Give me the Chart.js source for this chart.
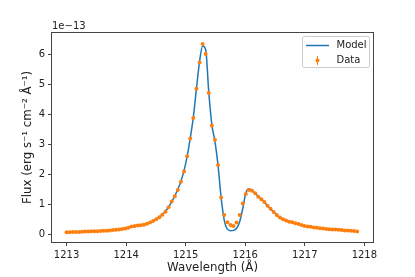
<!DOCTYPE html>
<html>
<head>
<meta charset="utf-8">
<script src="https://cdn.jsdelivr.net/npm/chart.js@4.4.1/dist/chart.umd.min.js"></script>
<style>
  html, body { margin: 0; padding: 0; background: #fff; }
  #wrap { width: 415px; height: 277px; }
</style>
</head>
<body>
<div id="wrap"><canvas id="spec"></canvas></div>
<script>
// wavelength grid (Å)
const wavelength = [
  1213.000, 1213.052, 1213.104, 1213.156, 1213.208, 1213.260, 1213.311, 1213.363, 1213.415, 1213.467,
  1213.519, 1213.571, 1213.623, 1213.675, 1213.727, 1213.779, 1213.830, 1213.882, 1213.934, 1213.986,
  1214.038, 1214.090, 1214.142, 1214.194, 1214.246, 1214.298, 1214.349, 1214.401, 1214.453, 1214.505,
  1214.557, 1214.609, 1214.661, 1214.713, 1214.765, 1214.817, 1214.868, 1214.920, 1214.972, 1215.024,
  1215.076, 1215.128, 1215.180, 1215.232, 1215.284, 1215.336, 1215.387, 1215.439, 1215.491, 1215.543,
  1215.595, 1215.647, 1215.699, 1215.751, 1215.803, 1215.855, 1215.906, 1215.958, 1216.010, 1216.062,
  1216.114, 1216.166, 1216.218, 1216.270, 1216.322, 1216.374, 1216.425, 1216.477, 1216.529, 1216.581,
  1216.633, 1216.685, 1216.737, 1216.789, 1216.841, 1216.893, 1216.944, 1216.996, 1217.048, 1217.100,
  1217.152, 1217.204, 1217.256, 1217.308, 1217.360, 1217.412, 1217.463, 1217.515, 1217.567, 1217.619,
  1217.671, 1217.723, 1217.775, 1217.827, 1217.879
];

// observed flux, units of 1e-13 erg/s/cm2/Å
const flux = [
  0.07, 0.07, 0.075, 0.08, 0.08, 0.085, 0.09, 0.09, 0.10, 0.10,
  0.105, 0.11, 0.12, 0.12, 0.13, 0.14, 0.15, 0.16, 0.18, 0.19,
  0.22, 0.26, 0.28, 0.29, 0.30, 0.32, 0.35, 0.39, 0.44, 0.50,
  0.57, 0.65, 0.75, 0.90, 1.09, 1.27, 1.48, 1.75, 2.09, 2.60,
  3.19, 3.88, 4.85, 5.73, 6.34, 6.01, 4.71, 3.63, 3.15, 2.31,
  1.23, 0.64, 0.40, 0.31, 0.28, 0.39, 0.64, 1.03, 1.34, 1.48,
  1.45, 1.37, 1.25, 1.17, 1.08, 0.95, 0.85, 0.74, 0.64, 0.56,
  0.50, 0.46, 0.42, 0.40, 0.37, 0.34, 0.31, 0.28, 0.26, 0.25,
  0.23, 0.22, 0.20, 0.19, 0.18, 0.17, 0.16, 0.16, 0.15, 0.14,
  0.13, 0.13, 0.12, 0.11, 0.09
];

// 1-sigma errors (tiny, mostly hidden under the markers)
const fluxErr = [
  0.02, 0.02, 0.02, 0.02, 0.02, 0.02, 0.02, 0.02, 0.02, 0.02,
  0.02, 0.02, 0.02, 0.02, 0.02, 0.02, 0.02, 0.02, 0.02, 0.02,
  0.02, 0.02, 0.02, 0.02, 0.02, 0.02, 0.02, 0.02, 0.02, 0.02,
  0.02, 0.02, 0.02, 0.03, 0.03, 0.03, 0.03, 0.03, 0.03, 0.04,
  0.04, 0.04, 0.05, 0.05, 0.05, 0.05, 0.05, 0.04, 0.04, 0.04,
  0.03, 0.03, 0.02, 0.02, 0.02, 0.02, 0.03, 0.03, 0.03, 0.03,
  0.03, 0.03, 0.03, 0.03, 0.03, 0.03, 0.02, 0.02, 0.02, 0.02,
  0.02, 0.02, 0.02, 0.02, 0.02, 0.02, 0.02, 0.02, 0.02, 0.02,
  0.02, 0.02, 0.02, 0.02, 0.02, 0.02, 0.02, 0.02, 0.02, 0.02,
  0.02, 0.02, 0.02, 0.02, 0.02
];

// best-fit model on the same grid
const model = [
  0.07, 0.07, 0.075, 0.08, 0.08, 0.085, 0.09, 0.09, 0.10, 0.10,
  0.105, 0.11, 0.12, 0.12, 0.13, 0.14, 0.15, 0.16, 0.18, 0.20,
  0.22, 0.24, 0.26, 0.28, 0.30, 0.32, 0.35, 0.39, 0.44, 0.50,
  0.57, 0.66, 0.77, 0.91, 1.09, 1.28, 1.50, 1.77, 2.12, 2.60,
  3.20, 3.90, 4.85, 5.75, 6.28, 6.15, 4.75, 3.65, 3.10, 2.30,
  1.22, 0.47, 0.17, 0.12, 0.13, 0.20, 0.42, 0.86, 1.38, 1.52,
  1.46, 1.37, 1.26, 1.17, 1.07, 0.95, 0.85, 0.74, 0.64, 0.56,
  0.50, 0.46, 0.42, 0.40, 0.37, 0.34, 0.31, 0.28, 0.26, 0.25,
  0.23, 0.22, 0.20, 0.19, 0.18, 0.17, 0.16, 0.16, 0.15, 0.14,
  0.13, 0.13, 0.12, 0.11, 0.09
];

const xTicks = [1213, 1214, 1215, 1216, 1217, 1218];
const yTicks = [0, 1, 2, 3, 4, 5, 6];

const BLUE = '#1f77b4';
const ORANGE = '#ff7f0e';
const FONT = 'DejaVu Sans';

// error bars, frame, offset text and matplotlib-ish legend
const extras = {
  id: 'extras',
  beforeDatasetDraw(chart, args) {
    if (args.index !== 0) return;
    const ctx = chart.ctx, xs = chart.scales.x, ys = chart.scales.y;
    ctx.save();
    ctx.strokeStyle = ORANGE;
    ctx.lineWidth = 1;
    flux.forEach((f, i) => {
      const px = xs.getPixelForValue(wavelength[i]);
      ctx.beginPath();
      ctx.moveTo(px, ys.getPixelForValue(f - fluxErr[i]));
      ctx.lineTo(px, ys.getPixelForValue(f + fluxErr[i]));
      ctx.stroke();
    });
    ctx.restore();
  },
  afterDraw(chart) {
    const ctx = chart.ctx, a = chart.chartArea;
    ctx.save();
    ctx.strokeStyle = '#444';
    ctx.lineWidth = 1;
    ctx.strokeRect(Math.round(a.left) - 0.5, Math.round(a.top) - 0.5,
                   Math.round(a.right - a.left) + 1, Math.round(a.bottom - a.top) + 1);

    ctx.fillStyle = '#222';
    ctx.font = '10px "' + FONT + '"';
    ctx.textAlign = 'left';
    ctx.textBaseline = 'alphabetic';
    ctx.fillText('1e\u221213', a.left, a.top - 4);

    // legend box
    const lx = 302.5, ly = 36.5, lw = 67, lh = 31;
    ctx.beginPath();
    ctx.roundRect(lx, ly, lw, lh, 2);
    ctx.fillStyle = 'rgba(255,255,255,0.8)';
    ctx.fill();
    ctx.strokeStyle = '#cccccc';
    ctx.stroke();

    const ds = chart.data.datasets;
    ctx.strokeStyle = BLUE;
    ctx.lineWidth = 1.5;
    ctx.beginPath();
    ctx.moveTo(306, 45.5);
    ctx.lineTo(329, 45.5);
    ctx.stroke();

    ctx.strokeStyle = ORANGE;
    ctx.lineWidth = 1;
    ctx.beginPath();
    ctx.moveTo(317.5, 56);
    ctx.lineTo(317.5, 65);
    ctx.stroke();
    ctx.fillStyle = ORANGE;
    ctx.beginPath();
    ctx.arc(317.5, 60.5, 2, 0, Math.PI * 2);
    ctx.fill();

    ctx.fillStyle = '#222';
    ctx.textBaseline = 'middle';
    ctx.fillText(ds[1].label, 336.5, 45.5);
    ctx.fillText(ds[0].label, 336.5, 60.5);
    ctx.restore();
  }
};

const pts = (ys) => wavelength.map((w, i) => ({ x: w, y: ys[i] }));

new Chart(document.getElementById('spec'), {
  type: 'scatter',
  data: {
    datasets: [
      {
        label: 'Data',
        data: pts(flux),
        showLine: false,
        pointRadius: 2,
        pointHoverRadius: 2,
        pointBorderWidth: 0,
        backgroundColor: ORANGE,
        borderColor: ORANGE,
        order: 0
      },
      {
        label: 'Model',
        data: pts(model),
        showLine: true,
        pointRadius: 0,
        borderColor: BLUE,
        borderWidth: 1.5,
        cubicInterpolationMode: 'monotone',
        order: 1
      }
    ]
  },
  options: {
    responsive: true,
    maintainAspectRatio: false,
    animation: false,
    events: [],
    layout: { padding: { top: 33, right: 42, left: 0, bottom: 0 } },
    plugins: { legend: { display: false }, tooltip: { enabled: false } },
    scales: {
      x: {
        type: 'linear',
        min: 1212.755,
        max: 1218.145,
        afterFit: (s) => { s.height = 35; },
        afterBuildTicks: (s) => { s.ticks = xTicks.map(v => ({ value: v })); },
        grid: { display: true, drawOnChartArea: false, tickLength: 4, color: '#444', tickWidth: 1 },
        border: { display: false },
        ticks: { color: '#222', font: { family: FONT, size: 10 }, padding: 3, maxRotation: 0,
                 callback: (v) => String(v) },
        title: { display: true, text: 'Wavelength (Å)', color: '#222',
                 font: { family: FONT, size: 11.8 }, padding: { top: 0, bottom: 1.5 } }
      },
      y: {
        min: -0.257,
        max: 6.71,
        afterFit: (s) => { s.width = 52; },
        afterBuildTicks: (s) => { s.ticks = yTicks.map(v => ({ value: v })); },
        grid: { display: true, drawOnChartArea: false, tickLength: 4, color: '#444', tickWidth: 1 },
        border: { display: false },
        ticks: { color: '#222', font: { family: FONT, size: 10 }, padding: 3,
                 callback: (v) => String(v) },
        title: { display: true, text: 'Flux (erg s⁻¹ cm⁻² Å⁻¹)', color: '#222',
                 font: { family: FONT, size: 11.8 }, padding: { top: 21, bottom: 0 } }
      }
    }
  },
  plugins: [extras]
});
</script>
</body>
</html>
